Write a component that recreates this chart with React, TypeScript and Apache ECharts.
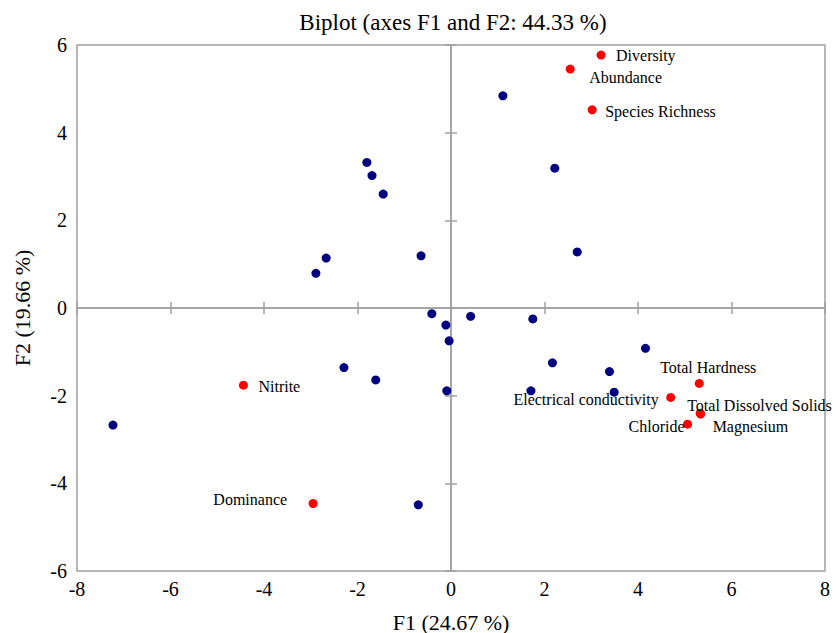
import React, { useEffect, useRef } from "react";
import * as echarts from "echarts";

// Observations (blue)
const obsX = [1.11, 2.22, -1.8, -1.69, -1.45, -2.67, -2.89, -0.64, 2.7, -0.41, -0.11, -0.04, 0.42, 1.75, 4.16, 2.17, 3.39, -0.09, 1.71, 3.49, -2.29, -1.61, -7.23, -0.7];
const obsY = [4.84, 3.19, 3.32, 3.02, 2.6, 1.14, 0.79, 1.19, 1.28, -0.13, -0.39, -0.75, -0.19, -0.25, -0.92, -1.25, -1.45, -1.89, -1.89, -1.92, -1.36, -1.64, -2.67, -4.49];

// Variables (red)
const varNames = ["Diversity", "Abundance", "Species Richness", "Nitrite", "Dominance", "Total Hardness", "Electrical conductivity", "Total Dissolved Solids", "Chloride", "Magnesium"];
const varX = [3.21, 2.55, 3.02, -4.44, -2.95, 5.31, 4.7, 5.33, 5.06, 5.34];
const varY = [5.77, 5.45, 4.52, -1.76, -4.46, -1.72, -2.04, -2.4, -2.65, -2.42];

const xTicks = { min: -8, max: 8, interval: 2 };
const yTicks = { min: -6, max: 6, interval: 2 };

const title = "Biplot (axes F1 and F2: 44.33 %)";
const xName = "F1 (24.67 %)";
const yName = "F2 (19.66 %)";

// label placement (styles), relative to the point centre
const labelPlace: Record<string, { align: string; dx: number; dy: number }> = {
  "Diversity": { align: "left", dx: 15, dy: 0 },
  "Abundance": { align: "left", dx: 19, dy: 8 },
  "Species Richness": { align: "left", dx: 13, dy: 2 },
  "Nitrite": { align: "left", dx: 15, dy: 1 },
  "Dominance": { align: "right", dx: -26, dy: -4 },
  "Total Hardness": { align: "center", dx: 9, dy: -16 },
  "Electrical conductivity": { align: "right", dx: -12, dy: 2 },
  "Total Dissolved Solids": { align: "left", dx: -13, dy: -8 },
  "Chloride": { align: "right", dx: -3, dy: 2 },
  "Magnesium": { align: "left", dx: 12, dy: 12 },
};

const FONT = "Liberation Serif";
const GREY = "#a0a0a0";
const SYM = 9;

export default function App() {
  const ref = useRef<HTMLDivElement>(null);
  useEffect(() => {
    if (!ref.current) return;
    const chart = echarts.init(ref.current, null, { renderer: "svg" });
    const baseX = {
      type: "value",
      min: xTicks.min,
      max: xTicks.max,
      interval: xTicks.interval,
      splitLine: { show: false },
    };
    const baseY = {
      type: "value",
      min: yTicks.min,
      max: yTicks.max,
      interval: yTicks.interval,
      splitLine: { show: false },
    };
    const zeroLine = { show: true, onZero: true, onZeroAxisIndex: 0, lineStyle: { color: GREY, width: 1.5 } };
    const zeroTick = { show: true, length: 6, lineStyle: { color: GREY, width: 1.5 } };
    chart.setOption({
      animation: false,
      backgroundColor: "#fff",
      textStyle: { fontFamily: FONT },
      title: {
        text: title,
        left: 448,
        textAlign: "center",
        top: 6,
        textStyle: { fontFamily: FONT, fontSize: 23, fontWeight: "normal", color: "#000" },
      },
      grid: {
        left: 77,
        top: 45,
        width: 748,
        height: 526,
        show: true,
        borderColor: GREY,
        borderWidth: 1.5,
        containLabel: false,
        outerBoundsMode: "none",
      },
      xAxis: [
        {
          ...baseX,
          position: "bottom",
          axisLine: { show: false, onZero: false },
          axisTick: { show: false },
          axisLabel: { color: "#000", fontFamily: FONT, fontSize: 20, margin: 8 },
          name: xName,
          nameLocation: "middle",
          nameGap: 40,
          nameTextStyle: { color: "#000", fontFamily: FONT, fontSize: 22 },
        },
        { ...baseX, position: "bottom", axisLine: zeroLine, axisTick: zeroTick, axisLabel: { show: false } },
        { ...baseX, position: "top", axisLine: zeroLine, axisTick: zeroTick, axisLabel: { show: false } },
      ],
      yAxis: [
        {
          ...baseY,
          position: "left",
          axisLine: { show: false, onZero: false },
          axisTick: { show: false },
          axisLabel: { color: "#000", fontFamily: FONT, fontSize: 20, margin: 10 },
          name: yName,
          nameLocation: "middle",
          nameGap: 44,
          nameTextStyle: { color: "#000", fontFamily: FONT, fontSize: 22 },
        },
        { ...baseY, position: "left", axisLine: zeroLine, axisTick: zeroTick, axisLabel: { show: false } },
        { ...baseY, position: "right", axisLine: zeroLine, axisTick: zeroTick, axisLabel: { show: false } },
      ],
      series: [
        {
          type: "scatter",
          name: "Observations",
          symbol: "circle",
          symbolSize: SYM,
          itemStyle: { color: "#000080", opacity: 1 },
          data: obsX.map((x, i) => [x, obsY[i]]),
          z: 5,
        },
        {
          type: "scatter",
          name: "Variables",
          symbol: "circle",
          symbolSize: SYM,
          itemStyle: { color: "#ff0000", opacity: 1 },
          data: varNames.map((n, i) => {
            const p = labelPlace[n];
            return {
              name: n,
              value: [varX[i], varY[i]],
              label: {
                show: true,
                formatter: n,
                position: [SYM / 2 + p.dx, SYM / 2 + p.dy],
                align: p.align,
                verticalAlign: "middle",
                color: "#000",
                fontFamily: FONT,
                fontSize: 16,
              },
            };
          }),
          z: 6,
        },
      ],
    });
    return () => chart.dispose();
  }, []);
  return <div ref={ref} style={{ width: 838, height: 633, position: "absolute", left: 0, top: 0 }} />;
}
